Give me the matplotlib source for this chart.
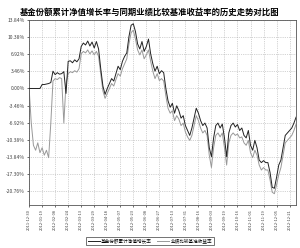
import matplotlib
matplotlib.use("Agg")
import matplotlib.pyplot as plt
import numpy as np

plt.rcParams['font.family'] = ['Noto Sans CJK SC', 'DejaVu Sans']

title = "基金份额累计净值增长率与同期业绩比较基准收益率的历史走势对比图"
series_names = ["基金份额累计净值增长率", "业绩比较基准收益率"]

tick_dates = ["2011-12-30", "2012-01-19", "2012-02-08", "2012-02-24", "2012-03-13",
              "2012-03-29", "2012-04-18", "2012-05-07", "2012-05-23", "2012-06-08",
              "2012-06-27", "2012-07-13", "2012-07-31", "2012-08-16", "2012-09-03",
              "2012-09-19", "2012-10-16", "2012-11-01", "2012-11-19", "2012-12-05",
              "2012-12-21"]

y_ticks = [13.84, 10.38, 6.92, 3.46, 0.00, -3.46, -6.92, -10.38, -13.84, -17.30, -20.76]

fund = [0, 0, 0, 0, 0, 0, 0.8, 0.8, 0.9, 1.0,
        1.2, 3.5, 2.8, 3.2, 2.9, 3.0, 3.4, -1.0, 5.5, 5.6,
        5.2, 5.8, 5.4, 6.0, 8.5, 9.2, 8.8, 9.6, 8.6, 9.4,
        8.2, 9.5, 8.0, 4.0, 0.5, -1.2, 0.0, 1.0, 2.0, 1.5,
        3.0, 4.5, 3.8, 5.5, 6.5, 7.2, 10.5, 12.8, 13.1, 11.5,
        9.0, 8.0, 9.5, 7.5, 8.5, 10.0, 7.0, 5.0, 3.5, 4.5,
        3.0, 3.6, 3.2, 0.0, -2.5, -3.8, -3.0, -5.0, -3.5, -4.5,
        -6.0, -5.5, -7.5, -8.5, -9.5, -8.0, -6.0, -4.0, -5.0, -6.5,
        -7.5, -7.0, -8.0, -12.0, -13.8, -10.0, -7.5, -7.0, -8.0, -7.2,
        -10.0, -13.8, -9.0, -7.5, -7.0, -7.8, -7.3, -8.5, -8.0, -9.5,
        -10.0, -8.5, -11.5, -12.5, -10.5, -12.0, -14.5, -15.0, -14.6, -15.0,
        -15.0, -17.0, -20.0, -20.2, -18.0, -15.5, -14.5, -12.0, -9.5, -9.0,
        -8.5, -8.0, -7.0, -5.8]

bench = [0, -7.0, -11.5, -12.5, -11.0, -13.0, -12.0, -13.5, -12.5, -14.0,
         -7.0, 1.5, 2.0, 1.8, 2.2, 2.0, -7.0, 1.0, 3.0, 3.4,
         3.2, 3.6, 3.3, 4.0, 7.0, 7.5, 7.2, 7.8, 7.0, 7.6,
         6.8, 7.5, 6.5, 3.0, -0.5, -2.0, -1.0, 0.0, 1.0, 0.5,
         1.8, 3.0, 2.5, 4.0, 5.0, 6.0, 9.0, 11.3, 11.8, 10.0,
         7.8, 6.8, 7.8, 6.0, 6.8, 7.8, 5.5, 3.5, 2.0, 3.0,
         1.6, 2.0, 1.5, -1.5, -4.0, -5.0, -4.5, -6.5, -5.5, -6.2,
         -7.5, -7.0, -8.8, -9.8, -10.5, -9.5, -7.5, -5.5, -6.5, -8.0,
         -9.0, -8.5, -9.5, -13.5, -16.0, -12.0, -9.5, -9.0, -9.8, -9.0,
         -12.0, -15.5, -11.0, -9.5, -9.0, -9.5, -9.2, -10.0, -9.8, -11.0,
         -11.5, -10.5, -13.0, -14.0, -12.5, -13.5, -15.5, -16.5, -16.0, -16.5,
         -16.5, -18.5, -21.0, -21.3, -19.5, -17.5, -16.0, -13.5, -11.0, -10.5,
         -10.0, -9.5, -8.5, -7.2]

fig = plt.figure(figsize=(3.0, 2.48), dpi=100)
ax = fig.add_axes([0.097, 0.173, 0.89, 0.746])

x = np.arange(len(fund))
ax.plot(x, fund, color='#222222', lw=0.7, label=series_names[0], zorder=3)
ax.plot(x, bench, color='#999999', lw=0.7, label=series_names[1], zorder=2)

ax.set_xlim(0, len(fund) - 1)
ax.set_ylim(-23.6, 13.84)
ax.set_yticks(y_ticks)
ax.set_yticklabels([f"{v:.2f}%" for v in y_ticks], fontsize=3.6, color='#444444')
xt = np.arange(len(tick_dates)) * 6
ax.set_xticks(xt)
ax.set_xticklabels(tick_dates, rotation=90, fontsize=2.9, color='#444444')
ax.tick_params(length=1.5, width=0.4, pad=1.5)
ax.grid(True, color='#aaaaaa', linestyle=':', linewidth=0.5)
for s in ax.spines.values():
    s.set_color('#555555')
    s.set_linewidth(0.6)

fig.text(0.5, 0.952, title, ha='center', va='center', fontsize=6.0, fontweight='bold')

leg = ax.legend(loc='center', bbox_to_anchor=(0.453, -0.195), ncol=2,
                fontsize=3.3, frameon=True, fancybox=False, handlelength=2.6,
                columnspacing=1.2, borderpad=0.35, handletextpad=0.3)
leg.get_frame().set_edgecolor('#333333')
leg.get_frame().set_linewidth(0.6)

fig.savefig("out.png", dpi=100)
